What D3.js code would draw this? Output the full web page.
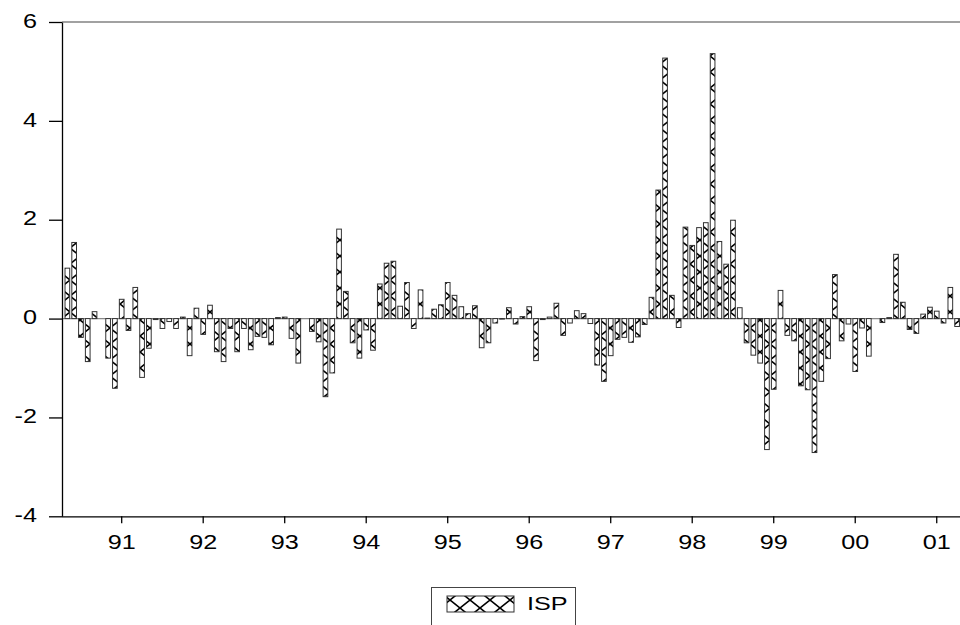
<!DOCTYPE html>
<html>
<head>
<meta charset="utf-8">
<script src="https://cdn.jsdelivr.net/npm/d3@7"></script>
<style>
  body { margin: 0; background: #fff; }
  svg { display: block; }
  text { font-family: "Liberation Sans", Arial, sans-serif; fill: #000; }
</style>
</head>
<body>
<svg id="chart" width="960" height="625"></svg>
<script>
// monthly ISP series, 1990M05 .. 2001M04
const startMonth = new Date(1990, 4, 1);
const ispValues = [
   1.02,  1.54, -0.38, -0.87,  0.14,  0.00, -0.80, -1.41,          // 90M05-90M12
   0.39, -0.24,  0.63, -1.19, -0.60, -0.02, -0.20, -0.06, -0.20,  0.03, -0.75,  0.21,   // 91
  -0.32,  0.27, -0.67, -0.87, -0.20, -0.67, -0.20, -0.63, -0.36, -0.38, -0.53,  0.02,   // 92
   0.03, -0.40, -0.90,  0.00, -0.26, -0.47, -1.58, -1.10,  1.81,  0.55, -0.49, -0.80,   // 93
  -0.23, -0.64,  0.70,  1.12,  1.16,  0.25,  0.73, -0.20,  0.58,  0.01,  0.19,  0.28,   // 94
   0.73,  0.47,  0.24,  0.10,  0.26, -0.59, -0.49, -0.09, -0.01,  0.22, -0.11,  0.04,   // 95
   0.24, -0.85, -0.02,  0.03,  0.31, -0.34, -0.09,  0.16,  0.10, -0.10, -0.94, -1.27,   // 96
  -0.75, -0.42, -0.38, -0.48, -0.37, -0.12,  0.43,  2.60,  5.27,  0.47, -0.18,  1.85,   // 97
   1.48,  1.84,  1.94,  5.36,  1.56,  1.10,  1.99,  0.22, -0.49, -0.74, -0.90, -2.65,   // 98
  -1.43,  0.57, -0.34, -0.45, -1.36, -1.44, -2.71, -1.27, -0.81,  0.89, -0.45, -0.11,   // 99
  -1.07, -0.19, -0.76,  0.00, -0.08,  0.02,  1.30,  0.33, -0.22, -0.30,  0.09,  0.23,   // 00
   0.15, -0.09,  0.63, -0.16                                                            // 01
];
const yTickValues = [-4, -2, 0, 2, 4, 6];
const yearLabels = ["91", "92", "93", "94", "95", "96", "97", "98", "99", "00", "01"];
const seriesName = "ISP";

const months = ispValues.map((v, i) => d3.timeMonth.offset(startMonth, i));
const data = months.map((m, i) => ({ month: m, value: ispValues[i] }));
const fmt = d3.timeFormat("%Y-%m");

const svg = d3.select("#chart");
const plotLeft = 62, plotTop = 22, plotBottom = 516.3;
const step = 6.792;
const stretch = 1.2;   // labels in the original are drawn a bit wide

var x = d3.scaleBand()
  .domain(months.map(fmt))
  .range([67.36 - step / 2, 67.36 - step / 2 + step * months.length])
  .paddingInner(0.31)
  .paddingOuter(0.155);

var y = d3.scaleLinear().domain([-4, 6]).range([plotBottom, plotTop]);

// crosshatch fill
var defs = svg.append("defs");
var pat = defs.append("pattern")
  .attr("id", "hatch")
  .attr("patternUnits", "userSpaceOnUse")
  .attr("width", 20).attr("height", 16);
pat.append("rect").attr("width", 20).attr("height", 16).attr("fill", "#fff");
pat.append("path")
  .attr("d", "M0,0L20,16M20,0L0,16")
  .attr("stroke", "#000").attr("stroke-width", 1.6).attr("fill", "none");

// frame (right side runs off the picture)
svg.append("line")
  .attr("x1", plotLeft).attr("x2", 980).attr("y1", plotTop).attr("y2", plotTop)
  .attr("stroke", "#444").attr("stroke-width", 1.2);

// zero line
svg.append("line")
  .attr("x1", plotLeft).attr("x2", 980).attr("y1", y(0)).attr("y2", y(0))
  .attr("stroke", "#888").attr("stroke-width", 1.2);

// bars
svg.append("g")
  .selectAll("rect")
  .data(data)
  .enter().append("rect")
  .attr("x", d => x(fmt(d.month)))
  .attr("width", x.bandwidth())
  .attr("y", d => y(Math.max(0, d.value)))
  .attr("height", d => Math.abs(y(d.value) - y(0)))
  .attr("fill", "url(#hatch)")
  .attr("stroke", "#333")
  .attr("stroke-width", 1);

// y axis
var yAxis = svg.append("g")
  .attr("transform", "translate(" + plotLeft + ",0)")
  .call(d3.axisLeft(y).tickValues(yTickValues).tickFormat(d => String(d))
    .tickSize(13).tickSizeOuter(0).tickPadding(12));
yAxis.selectAll("text")
  .attr("font-size", "21px").attr("dy", "0.25em")
  .attr("transform", function() {
    var tx = +d3.select(this).attr("x");
    return "translate(" + tx + ",0) scale(" + stretch + ",1)";
  })
  .attr("x", 0);
yAxis.selectAll("line, path").attr("stroke", "#000").attr("stroke-width", 1.3);
yAxis.attr("font-family", null);

// x axis, ticks on each January
var janKeys = months.filter(m => m.getMonth() === 0).map(fmt);
var xAxis = svg.append("g")
  .attr("transform", "translate(0," + plotBottom + ")")
  .call(d3.axisBottom(x).tickValues(janKeys)
    .tickFormat((d, i) => yearLabels[i])
    .tickSize(7).tickSizeOuter(0).tickPadding(11));
xAxis.select(".domain").attr("d", "M" + plotLeft + ",0.5H980");
xAxis.selectAll("text").attr("font-size", "21px")
  .attr("transform", "scale(" + stretch + ",1)");
xAxis.selectAll("line, path").attr("stroke", "#000").attr("stroke-width", 1.3);
xAxis.attr("font-family", null);

// legend
var legend = svg.append("g");
legend.append("rect")
  .attr("x", 431.5).attr("y", 587.5).attr("width", 144).attr("height", 50)
  .attr("fill", "#fff").attr("stroke", "#444").attr("stroke-width", 1);
legend.append("rect")
  .attr("x", 447).attr("y", 596).attr("width", 67).attr("height", 16)
  .attr("fill", "url(#hatch)").attr("stroke", "#333").attr("stroke-width", 1);
legend.append("text")
  .attr("transform", "translate(527,610) scale(1.4,1)")
  .attr("font-size", "18px")
  .text(seriesName);
</script>
</body>
</html>
